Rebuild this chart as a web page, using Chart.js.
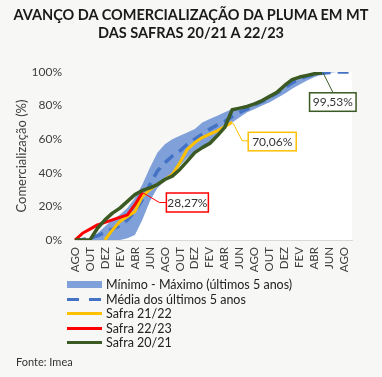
<!DOCTYPE html>
<html>
<head>
<meta charset="utf-8">
<script src="https://cdn.jsdelivr.net/npm/chart.js@4.4.0/dist/chart.umd.min.js"></script>
<style>
  html, body { margin: 0; padding: 0; background: #f7f7f5; }
  body { width: 382px; height: 377px; position: relative; overflow: hidden; font-family: Lato, 'Open Sans', sans-serif; }
  #title { position: absolute; left: 0; top: 6px; width: 382px; text-align: center; font-weight: bold; font-size: 14.5px; line-height: 18px; color: #1a1a1a; white-space: nowrap; }
  #wrap { position: absolute; left: 0; top: 0; width: 382px; height: 377px; }
  #legend { position: absolute; left: 67px; top: 277.5px; font-size: 12.5px; color: #222; }
  .item { display: flex; align-items: center; height: 14.5px; white-space: nowrap; }
  .item svg { margin-right: 4px; }
  #source { position: absolute; left: 16px; top: 355px; font-size: 11px; color: #333; }
</style>
</head>
<body>
<div id="wrap"><canvas id="chart" width="382" height="377"></canvas></div>
<div id="title"><span id="t1">AVANÇO DA COMERCIALIZAÇÃO DA PLUMA EM MT</span><br>DAS SAFRAS 20/21 A 22/23</div>
<div id="legend"></div>
<div id="source">Fonte: Imea</div>
<script>
// Categories (monthly, labels shown every other month)
const months = [
  'AGO', 'SET', 'OUT', 'NOV', 'DEZ', 'JAN', 'FEV', 'MAR', 'ABR', 'MAI', 'JUN', 'JUL',
  'AGO', 'SET', 'OUT', 'NOV', 'DEZ', 'JAN', 'FEV', 'MAR', 'ABR', 'MAI', 'JUN', 'JUL',
  'AGO', 'SET', 'OUT', 'NOV', 'DEZ', 'JAN', 'FEV', 'MAR', 'ABR', 'MAI', 'JUN', 'JUL',
  'AGO', 'SET'
];

// Series values (%)
const minimo = [0, 0, 0, 0, 0, 0, 0, 1, 3, 12, 23, 31, 35, 39, 44, 49, 52, 55, 58, 62, 66, 70,
  73, 76, 78, 80, 82, 84.5, 87, 90, 92.5, 95, 97, 98.5, 99.5, 100, 100, 100];
const maximo = [0, 0, 1, 4, 8, 12, 15, 19, 25, 33, 43, 52, 57, 60, 62, 64, 66, 70, 72, 74, 76, 78,
  79, 80.5, 82, 84, 86, 88.5, 92, 95.5, 97.5, 98.5, 99.3, 100, 100, 100, 100, 100];
const media = [0, 0.3, 1, 2.5, 4.5, 6.5, 8.5, 12, 17, 24, 33, 41, 46, 50, 53, 57, 60, 63, 66, 68.5, 70.5, 73.5,
  76, 78, 80.5, 82.5, 85, 87.5, 90.5, 93.5, 96, 97.5, 98.5, 99.3, 99.7, 100, 100, 100];
const safra2122 = [null, null, null, null, 0, 6, 11, 14, 17, 26, 30, 33, 36, 39, 46, 54, 58, 61, 63, 65, 67.5, 70.06];
const safra2223 = [0, 4, 6.5, 9, 10.5, 12, 13.5, 15, 21, 28.27];
const safra2021 = [0, 0, 0, 7, 12, 16, 19, 23, 27, 29.5, 31, 33, 36, 38, 42, 47, 52, 55, 57.5, 62, 67, 77.5,
  78.5, 79.5, 81, 83, 85.5, 88, 92, 95.5, 97, 98, 99, 99.53];

// Y axis ticks
const yTicks = [0, 10, 20, 30, 40, 50, 60, 70, 80, 90, 100];

const bandColor = '#7fa0d8';
const mediaColor = '#4472c4';
const yellow = '#ffc000';
const red = '#ff0000';
const green = '#3b5a23';

const fmt = v => v.toFixed(2).replace('.', ',') + '%';

// fit the first title line to the width it has in the original
(function fitTitle() {
  const t1 = document.getElementById('t1');
  const w = t1.getBoundingClientRect().width;
  const title = document.getElementById('title');
  const size = 14.5 * 355 / w;
  title.style.fontSize = Math.min(size, 17) + 'px';
})();

// Callout boxes next to the last point of each season
const callouts = [
  { dataset: 4, color: red, box: [24, 0.5, 42, 19], leader: [[0, 0], [17, 10], [24, 10]] },
  { dataset: 3, color: yellow, box: [16, 10, 48, 18.5], leader: [[1, 1], [10, 18.5], [16, 18.5]] },
  { dataset: 5, color: green, box: [-12.5, 20, 46.5, 18.5], leader: [[1, 0], [11, 20]] }
];

const calloutPlugin = {
  id: 'callouts',
  afterDatasetsDraw(chart) {
    const ctx = chart.ctx;
    callouts.forEach(c => {
      const meta = chart.getDatasetMeta(c.dataset);
      const values = chart.data.datasets[c.dataset].data;
      const idx = values.length - 1;
      const pt = meta.data[idx];
      const x = pt.x, y = pt.y;
      ctx.save();
      ctx.strokeStyle = c.color;
      ctx.lineWidth = 1;
      ctx.beginPath();
      c.leader.forEach((p, i) => {
        if (i === 0) ctx.moveTo(x + p[0], y + p[1]);
        else ctx.lineTo(x + p[0], y + p[1]);
      });
      ctx.stroke();
      const [dx, dy, w, h] = c.box;
      ctx.fillStyle = '#ffffff';
      ctx.fillRect(x + dx, y + dy, w, h);
      ctx.lineWidth = 1.5;
      ctx.strokeRect(x + dx, y + dy, w, h);
      ctx.fillStyle = '#333333';
      ctx.font = '12px Lato, sans-serif';
      ctx.textAlign = 'center';
      ctx.textBaseline = 'middle';
      ctx.fillText(fmt(values[idx]), x + dx + w / 2, y + dy + h / 2 + 0.5);
      ctx.restore();
    });
  }
};

const ctx = document.getElementById('chart').getContext('2d');
new Chart(ctx, {
  type: 'line',
  data: {
    labels: months,
    datasets: [
      { label: 'min', data: minimo, borderWidth: 0, pointRadius: 0, fill: 'origin',
        backgroundColor: '#ffffff', borderColor: 'rgba(0,0,0,0)', order: 10 },
      { label: 'Mínimo - Máximo (últimos 5 anos)', data: maximo, borderWidth: 0, pointRadius: 0,
        fill: { target: 0 }, backgroundColor: bandColor, borderColor: 'rgba(0,0,0,0)', order: 9 },
      { label: 'Média dos últimos 5 anos', data: media, borderColor: mediaColor, borderWidth: 3.5,
        borderDash: [11, 7], pointRadius: 0, fill: false, order: 8 },
      { label: 'Safra 21/22', data: safra2122, borderColor: yellow, borderWidth: 3, pointRadius: 0, fill: false, order: 7 },
      { label: 'Safra 22/23', data: safra2223, borderColor: red, borderWidth: 3, pointRadius: 0, fill: false, order: 6 },
      { label: 'Safra 20/21', data: safra2021, borderColor: green, borderWidth: 3.5, pointRadius: 0, fill: false, order: 5 }
    ]
  },
  options: {
    responsive: false,
    animation: false,
    layout: { padding: { top: 72, right: 30, left: 0, bottom: 0 } },
    plugins: {
      legend: { display: false },
      tooltip: { enabled: false }
    },
    elements: { line: { tension: 0, borderCapStyle: 'butt', borderJoinStyle: 'round' } },
    scales: {
      x: {
        offset: false,
        grid: { display: false, drawTicks: false },
        border: { display: true, color: '#d9d9d9', width: 1 },
        afterFit: s => { s.height = 137; },
        ticks: {
          autoSkip: false, minRotation: 90, maxRotation: 90, padding: 7,
          color: '#404040', font: { family: 'Lato', size: 11.5 },
          callback: function (val, i) { return i % 2 === 0 ? this.getLabelForValue(val) : ''; }
        }
      },
      y: {
        min: 0, max: 100,
        afterFit: s => { s.width = 75; },
        afterBuildTicks: s => { s.ticks = yTicks.map(v => ({ value: v })); },
        grid: { display: false, drawTicks: false },
        border: { display: false },
        ticks: { padding: 13, color: '#404040', font: { family: 'Lato', size: 12 }, callback: v => v + '%' },
        title: { display: true, text: 'Comercialização (%)', color: '#404040',
          font: { family: 'Lato', size: 13 }, padding: { top: 14, bottom: 0 } }
      }
    }
  },
  plugins: [calloutPlugin]
});

// Legend
const legendItems = [
  { text: 'Mínimo - Máximo (últimos 5 anos)', svg: `<rect x="0" y="4" width="35" height="7" fill="${bandColor}"/>` },
  { text: 'Média dos últimos 5 anos', svg: `<line x1="0" y1="7.5" x2="35" y2="7.5" stroke="${mediaColor}" stroke-width="3" stroke-dasharray="12 10"/>` },
  { text: 'Safra 21/22', svg: `<line x1="0" y1="7.5" x2="35" y2="7.5" stroke="${yellow}" stroke-width="3"/>` },
  { text: 'Safra 22/23', svg: `<line x1="0" y1="7.5" x2="35" y2="7.5" stroke="${red}" stroke-width="3"/>` },
  { text: 'Safra 20/21', svg: `<line x1="0" y1="7.5" x2="35" y2="7.5" stroke="${green}" stroke-width="3"/>` }
];
const legendEl = document.getElementById('legend');
legendItems.forEach(it => {
  const el = document.createElement('div');
  el.className = 'item';
  el.innerHTML = `<svg width="35" height="15">${it.svg}</svg><span>${it.text}</span>`;
  legendEl.appendChild(el);
});
</script>
</body>
</html>
